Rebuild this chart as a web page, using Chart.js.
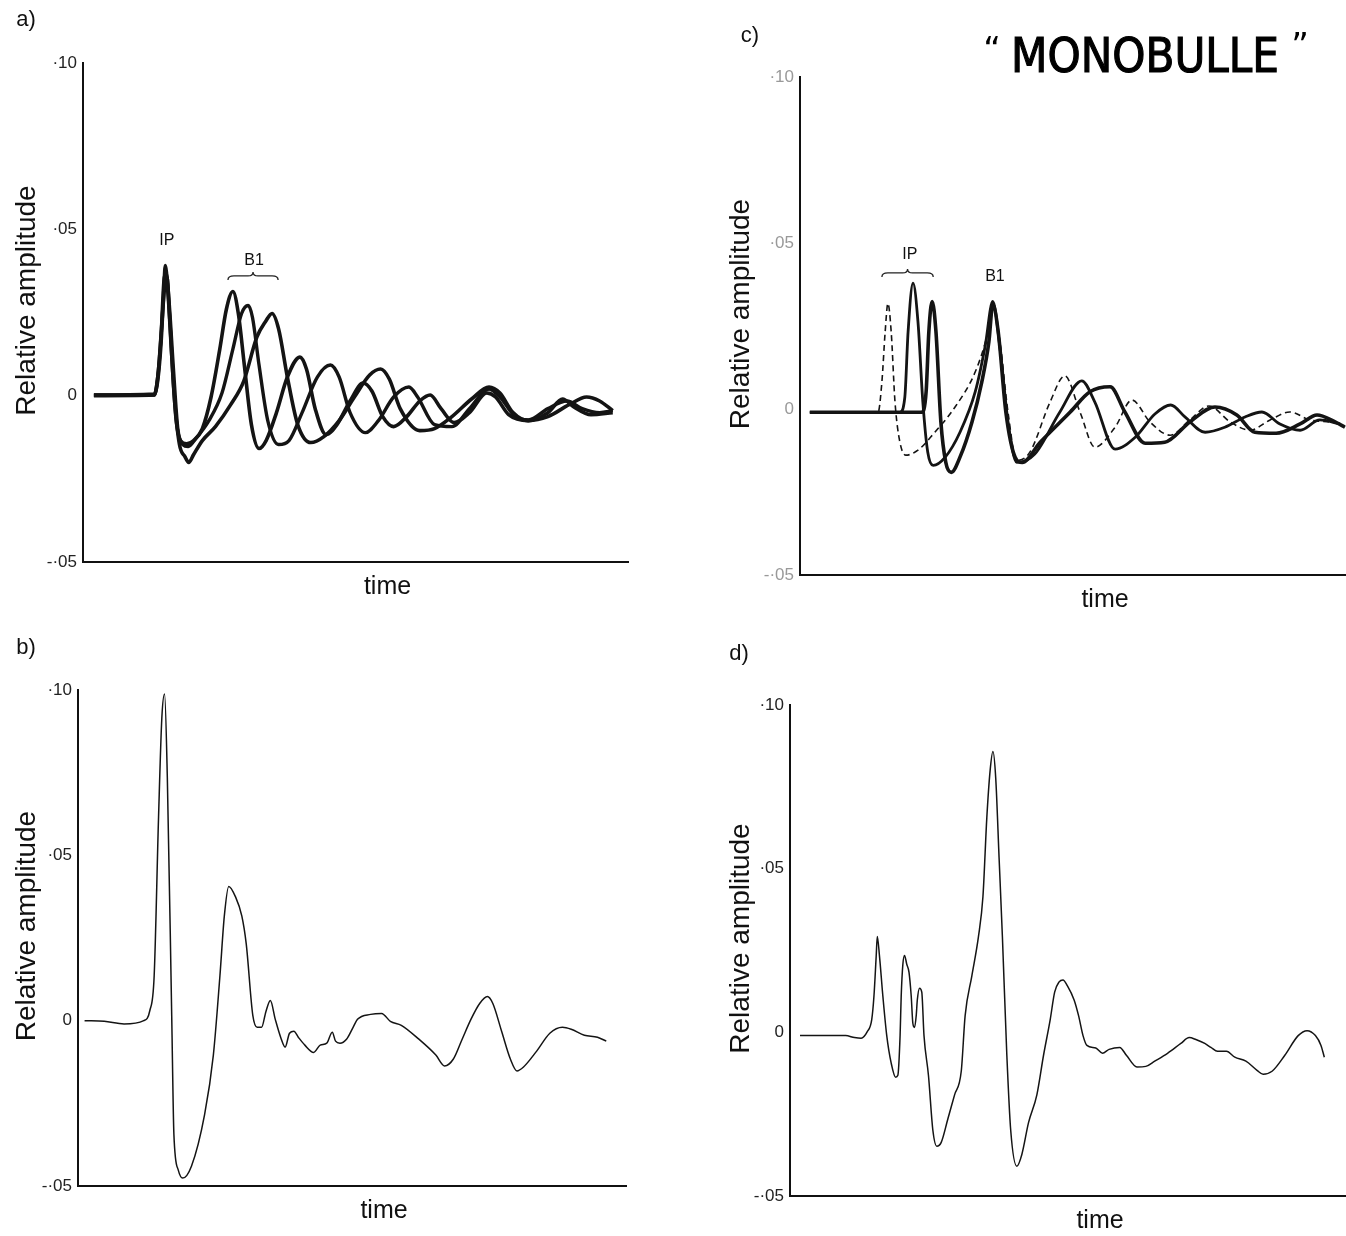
<!DOCTYPE html>
<html>
<head>
<meta charset="utf-8">
<script src="https://cdn.jsdelivr.net/npm/chart.js@4.4.1/dist/chart.umd.min.js"></script>
<style>
  html, body { margin: 0; padding: 0; background: #fff; }
  #page { position: relative; width: 1346px; height: 1236px; overflow: hidden; background: #fff; }
  .panel { position: absolute; }
</style>
</head>
<body>
<div id="page">
  <div class="panel" style="left:0;top:0;width:660px;height:615px"><canvas id="chart-a"></canvas></div>
  <div class="panel" style="left:0;top:620px;width:660px;height:616px"><canvas id="chart-b"></canvas></div>
  <div class="panel" style="left:680px;top:0;width:666px;height:615px"><canvas id="chart-c"></canvas></div>
  <div class="panel" style="left:680px;top:620px;width:666px;height:616px"><canvas id="chart-d"></canvas></div>
</div>
<script>
// y axis, shared by all four panels
const tickValues = [-0.05, 0, 0.05, 0.10];
const tickLabels = ["-·05", "0", "·05", "·10"];

// time is in percent of the axis length, amplitude is relative
// panel a: three overlaid signatures, same IP, different bubble periods
const traceA1 = [[2.0,0.0002],[13.1,0.0002],[13.7,0.0044],[14.3,0.0152],[14.8,0.0307],[15.1,0.0391],[15.6,0.0307],[16.3,0.0116],[17.1,-0.0075],[17.9,-0.0135],[19.0,-0.0145],[20.3,-0.0135],[21.9,-0.0099],[23.5,-0.0004],[25.1,0.014],[26.3,0.0259],[27.5,0.0313],[28.5,0.0247],[29.6,0.0092],[30.9,-0.0087],[32.3,-0.0159],[33.6,-0.0135],[35.5,-0.0051],[37.5,0.0056],[39.8,0.0116],[41.0,0.008],[42.6,-0.0039],[44.6,-0.0117],[46.6,-0.0087],[49.0,-0.0016],[51.4,0.0038],[53.0,0.0014],[55.0,-0.0063],[57.0,-0.0093],[59.4,-0.0063],[61.8,-0.0016],[63.7,0.0002],[65.7,-0.0039],[68.1,-0.0081],[70.9,-0.0051],[74.1,0.0008],[75.7,-0.0004],[78.1,-0.0057],[81.7,-0.0075],[85.3,-0.0051],[88.0,-0.001],[90.0,-0.0033],[93.2,-0.0057],[97.2,-0.0051]];
const traceA2 = [[2.0,0.0002],[13.1,0.0005],[13.7,0.0056],[14.3,0.0176],[14.9,0.0355],[15.3,0.0367],[15.8,0.0283],[16.6,0.008],[17.4,-0.0099],[18.3,-0.0147],[19.3,-0.0153],[20.7,-0.0129],[23.1,-0.0075],[25.5,0.0008],[27.5,0.014],[29.1,0.0247],[30.3,0.0271],[31.1,0.0235],[32.3,0.0092],[33.9,-0.0075],[35.9,-0.0147],[37.8,-0.0135],[40.2,-0.0051],[43.0,0.0056],[45.4,0.0092],[47.0,0.0056],[49.0,-0.0051],[51.8,-0.0111],[54.2,-0.0075],[57.0,-0.0004],[59.8,0.0026],[61.4,-0.0004],[64.5,-0.0087],[67.7,-0.0093],[70.9,-0.0039],[74.5,0.002],[76.5,-0.0004],[79.3,-0.0063],[81.7,-0.0073],[85.3,-0.0039],[88.8,-0.0016],[91.6,-0.0039],[94.8,-0.0051],[97.2,-0.0045]];
const traceA3 = [[2.0,0.0],[13.1,0.0002],[13.8,0.0068],[14.4,0.02],[15.0,0.0331],[15.4,0.0355],[15.9,0.0235],[16.7,0.0008],[17.7,-0.0147],[18.7,-0.0183],[19.4,-0.0201],[20.3,-0.0177],[21.9,-0.0135],[24.3,-0.0093],[27.1,-0.0027],[29.5,0.0044],[31.9,0.0176],[33.5,0.0223],[34.7,0.0247],[35.9,0.02],[37.5,0.0056],[39.4,-0.0087],[41.8,-0.0141],[44.2,-0.0123],[47.0,-0.0075],[49.8,-0.0004],[52.6,0.0062],[54.6,0.008],[56.2,0.005],[58.2,-0.0039],[61.8,-0.0105],[64.5,-0.0099],[67.7,-0.0063],[71.3,-0.001],[74.5,0.0026],[76.5,0.0008],[78.9,-0.0051],[81.7,-0.0075],[85.3,-0.0063],[89.2,-0.0027],[92.4,-0.0004],[94.8,-0.0016],[97.2,-0.0045]];

// panel b: summed signature
const traceB = [[1.2,0.0],[4.8,-0.0002],[8.4,-0.001],[12.0,0.0],[13.1,0.003],[13.9,0.0136],[14.7,0.0616],[15.3,0.0916],[15.8,0.0988],[16.3,0.0736],[17.1,0.0016],[17.5,-0.0344],[18.3,-0.0452],[19.1,-0.0476],[20.7,-0.044],[23.1,-0.0284],[24.7,-0.0104],[25.9,0.0136],[26.7,0.0316],[27.5,0.0406],[28.7,0.0376],[29.9,0.0316],[30.7,0.0232],[31.9,0.0016],[32.7,-0.002],[33.5,-0.002],[34.3,0.0028],[35.1,0.0061],[36.0,0.0004],[37.1,-0.0056],[37.8,-0.008],[38.6,-0.0038],[39.4,-0.0032],[40.2,-0.005],[41.4,-0.0074],[43.0,-0.0096],[44.2,-0.0074],[45.4,-0.0068],[46.4,-0.0035],[47.0,-0.0062],[47.8,-0.0068],[49.0,-0.0056],[50.2,-0.002],[51.0,0.0004],[53.4,0.0019],[55.4,0.0022],[57.0,-0.0002],[59.0,-0.0014],[62.2,-0.0056],[65.3,-0.0104],[66.9,-0.0137],[68.5,-0.0116],[70.1,-0.0056],[71.7,0.0004],[73.3,0.0052],[74.7,0.0073],[75.7,0.0052],[77.3,-0.0032],[78.9,-0.0116],[80.1,-0.0152],[81.3,-0.014],[83.7,-0.0092],[86.1,-0.0038],[88.4,-0.002],[90.0,-0.0026],[92.4,-0.0044],[94.8,-0.005],[96.4,-0.0062]];

// panel c: three signatures aligned on the bubble B1
const traceC1 = [[1.8,-0.001],[14.3,-0.001],[15.0,0.0082],[15.6,0.0233],[16.1,0.0318],[16.7,0.0233],[17.4,0.0021],[18.3,-0.01],[19.4,-0.0139],[21.6,-0.0124],[24.7,-0.007],[28.4,0.0006],[32.1,0.0112],[34.2,0.0218],[35.3,0.0309],[36.6,0.0203],[38.1,-0.001],[39.7,-0.0155],[42.1,-0.013],[45.8,0.0021],[48.5,0.01],[51.3,-0.001],[54.0,-0.0115],[57.7,-0.0055],[60.8,0.0027],[64.1,-0.0039],[67.8,-0.0079],[71.4,-0.0033],[74.9,0.0009],[78.8,-0.0039],[82.4,-0.0064],[86.1,-0.0033],[89.7,-0.0009],[93.4,-0.0033],[97.1,-0.0039]];
const traceC2 = [[1.8,-0.001],[18.3,-0.001],[19.2,0.0036],[19.8,0.0233],[20.7,0.0379],[21.6,0.0264],[22.5,0.0021],[23.4,-0.013],[24.4,-0.017],[26.6,-0.0145],[29.3,-0.007],[32.1,0.0052],[33.9,0.0188],[35.3,0.0324],[36.6,0.0188],[38.1,-0.0039],[39.7,-0.0161],[43.0,-0.0136],[47.6,-0.0009],[51.6,0.0085],[54.0,0.0021],[57.7,-0.0121],[61.4,-0.0085],[65.0,-0.0015],[67.9,0.0012],[70.5,-0.0024],[74.2,-0.007],[77.8,-0.0055],[81.5,-0.0024],[84.6,-0.0009],[87.9,-0.0045],[91.6,-0.0064],[95.2,-0.0033],[98.9,-0.0045]];
const traceC3 = [[1.8,-0.001],[22.3,-0.001],[23.1,0.0052],[23.6,0.0233],[24.2,0.0324],[24.9,0.0233],[25.8,-0.0039],[26.7,-0.0161],[27.7,-0.0191],[29.3,-0.0145],[31.5,-0.0039],[33.3,0.0082],[34.6,0.0203],[35.3,0.0315],[36.3,0.0233],[37.7,-0.0009],[39.4,-0.0145],[40.7,-0.0161],[44.0,-0.01],[49.5,-0.0009],[53.1,0.0052],[56.8,0.0067],[59.5,-0.0009],[63.2,-0.0103],[66.8,-0.01],[71.4,-0.0039],[76.0,0.0006],[80.0,-0.0018],[83.3,-0.007],[87.2,-0.0073],[91.6,-0.0045],[94.7,-0.0018],[98.0,-0.0039],[99.8,-0.0055]];

// panel d: summed signature
const traceD = [[1.8,-0.001],[10.0,-0.001],[11.6,-0.0016],[12.8,-0.0018],[13.9,0.0002],[14.7,0.0039],[15.1,0.0111],[15.5,0.0232],[15.7,0.0293],[16.1,0.0232],[16.7,0.0111],[17.4,-0.001],[18.2,-0.0094],[19.0,-0.0137],[19.4,-0.0131],[19.8,-0.001],[20.0,0.0111],[20.3,0.0208],[20.6,0.0235],[21.0,0.0208],[21.4,0.0184],[21.8,0.0111],[22.1,0.0027],[22.4,0.0015],[22.7,0.0051],[22.9,0.0099],[23.3,0.0135],[23.7,0.0123],[24.1,-0.001],[24.9,-0.0131],[25.7,-0.03],[26.4,-0.0348],[27.2,-0.0336],[28.4,-0.0264],[29.6,-0.0191],[30.8,-0.0119],[31.5,0.0051],[32.7,0.0172],[33.9,0.0293],[34.7,0.0414],[35.4,0.0656],[36.0,0.0801],[36.5,0.0858],[37.0,0.0777],[37.6,0.0535],[38.2,0.0293],[39.0,-0.007],[39.7,-0.03],[40.8,-0.0409],[41.7,-0.0373],[42.9,-0.0276],[44.4,-0.0191],[45.6,-0.007],[46.8,0.0039],[47.6,0.0123],[48.4,0.0154],[49.1,0.016],[49.9,0.0142],[51.1,0.0099],[51.9,0.0051],[52.7,-0.001],[53.4,-0.004],[55.0,-0.0048],[56.2,-0.0064],[57.4,-0.0052],[59.3,-0.0046],[60.5,-0.007],[62.4,-0.0106],[64.0,-0.0104],[65.6,-0.0088],[67.9,-0.0064],[70.3,-0.0034],[71.8,-0.0016],[73.0,-0.0022],[74.6,-0.0034],[75.7,-0.0046],[76.9,-0.0058],[78.5,-0.0058],[80.0,-0.0076],[82.0,-0.0088],[84.0,-0.0116],[85.1,-0.0128],[86.7,-0.0119],[89.0,-0.007],[91.4,-0.001],[93.0,0.0005],[94.5,-0.001],[95.5,-0.004],[96.1,-0.0076]];

const FONT = '"Liberation Sans", Arial, sans-serif';

function traceDataset(points, width, dash) {
  return {
    data: points.map(function(p) { return { x: p[0], y: p[1] }; }),
    borderColor: "#141414",
    borderWidth: width,
    borderDash: dash || [],
    pointRadius: 0,
    cubicInterpolationMode: "monotone",
    fill: false
  };
}

function drawBrace(ctx, x1, x2, y) {
  const mid = (x1 + x2) / 2;
  ctx.beginPath();
  ctx.moveTo(x1, y + 4);
  ctx.quadraticCurveTo(x1, y, x1 + 6, y);
  ctx.lineTo(mid - 5, y);
  ctx.quadraticCurveTo(mid, y, mid, y - 4);
  ctx.quadraticCurveTo(mid, y, mid + 5, y);
  ctx.lineTo(x2 - 6, y);
  ctx.quadraticCurveTo(x2, y, x2, y + 4);
  ctx.stroke();
}

// panel label, axis titles and the IP / B1 notes
function textPlugin(cfg) {
  return {
    id: "panelText",
    afterDraw: function(chart) {
      const ctx = chart.ctx;
      const area = chart.chartArea;
      const xs = chart.scales.x;
      const ys = chart.scales.y;

      ctx.save();
      ctx.fillStyle = "#111";
      ctx.strokeStyle = "#222";
      ctx.textAlign = "center";
      ctx.textBaseline = "middle";

      ctx.font = "22px " + FONT;
      ctx.fillText(cfg.label, cfg.labelPos[0], cfg.labelPos[1]);

      ctx.font = "25px " + FONT;
      ctx.fillText("time", (area.left + area.right) / 2 + 32, area.bottom + 25);

      ctx.save();
      ctx.translate(cfg.yTitleX, (area.top + area.bottom) / 2 - 12);
      ctx.rotate(-Math.PI / 2);
      ctx.font = "28px " + FONT;
      ctx.fillText("Relative amplitude", 0, 0);
      ctx.restore();

      ctx.font = "16px " + FONT;
      (cfg.notes || []).forEach(function(n) {
        ctx.fillText(n.text, xs.getPixelForValue(n.t), ys.getPixelForValue(n.v));
      });

      ctx.lineWidth = 1.3;
      (cfg.braces || []).forEach(function(b) {
        drawBrace(ctx, xs.getPixelForValue(b.from), xs.getPixelForValue(b.to), ys.getPixelForValue(b.v));
      });

      if (cfg.handNote) {
        ctx.fillStyle = "#000";
        ctx.strokeStyle = "#000";
        ctx.lineWidth = 1.2;
        ctx.font = '48px "DejaVu Sans", sans-serif';
        ctx.fillText(cfg.handNote.text, cfg.handNote.x, cfg.handNote.y, 268);
        ctx.strokeText(cfg.handNote.text, cfg.handNote.x, cfg.handNote.y, 268);
        ctx.font = '34px "DejaVu Sans", sans-serif';
        ctx.fillText("\u201C", cfg.handNote.x - 153, cfg.handNote.y - 8);
        ctx.fillText("\u201D", cfg.handNote.x + 155, cfg.handNote.y - 12);
      }
      ctx.restore();
    }
  };
}

function makePanel(id, datasets, cfg) {
  const ctx = document.getElementById(id);

  return new Chart(ctx, {
    type: "line",
    data: { datasets: datasets },
    options: {
      responsive: true,
      maintainAspectRatio: false,
      animation: false,
      layout: {
        padding: { top: cfg.top, right: cfg.right, left: 0, bottom: 0 }
      },
      plugins: {
        legend: { display: false },
        tooltip: { enabled: false }
      },
      scales: {
        x: {
          type: "linear",
          min: 0,
          max: 100,
          ticks: { display: false },
          grid: { display: false },
          border: { display: true, color: "#111", width: 2 },
          afterFit: function(s) { s.height = cfg.xHeight; }
        },
        y: {
          min: -0.05,
          max: 0.10,
          grid: { display: false, drawTicks: false },
          border: { display: true, color: "#111", width: 2 },
          afterBuildTicks: function(s) {
            s.ticks = tickValues.map(function(v) { return { value: v }; });
          },
          ticks: {
            padding: 6,
            color: cfg.tickColor,
            font: { family: FONT, size: 17 },
            callback: function(value, index) { return tickLabels[index]; }
          },
          afterFit: function(s) { s.width = cfg.yWidth; }
        }
      }
    },
    plugins: [textPlugin(cfg)]
  });
}

makePanel("chart-a", [
  traceDataset(traceA1, 3.6),
  traceDataset(traceA2, 3.4),
  traceDataset(traceA3, 3.6)
], {
  top: 63, right: 32, xHeight: 53, yWidth: 83,
  tickColor: "#222", label: "a)", labelPos: [26, 20], yTitleX: 27,
  notes: [{ text: "IP", t: 15.4, v: 0.0466 }, { text: "B1", t: 31.4, v: 0.0406 }],
  braces: [{ from: 26.6, to: 35.8, v: 0.036 }]
});

makePanel("chart-b", [
  traceDataset(traceB, 1.5)
], {
  top: 70, right: 34, xHeight: 50, yWidth: 78,
  tickColor: "#222", label: "b)", labelPos: [26, 28], yTitleX: 27
});

makePanel("chart-c", [
  traceDataset(traceC1, 1.6, [6, 4]),
  traceDataset(traceC2, 2.8),
  traceDataset(traceC3, 3.6)
], {
  top: 77, right: 0, xHeight: 40, yWidth: 120,
  tickColor: "#999", label: "c)", labelPos: [70, 36], yTitleX: 61,
  notes: [{ text: "IP", t: 20.1, v: 0.0464 }, { text: "B1", t: 35.7, v: 0.040 }],
  braces: [{ from: 15.0, to: 24.4, v: 0.041 }],
  handNote: { text: "MONOBULLE", x: 465, y: 60 }
});

makePanel("chart-d", [
  traceDataset(traceD, 1.5)
], {
  top: 85, right: 0, xHeight: 40, yWidth: 110,
  tickColor: "#222", label: "d)", labelPos: [59, 34], yTitleX: 61
});
</script>
</body>
</html>
